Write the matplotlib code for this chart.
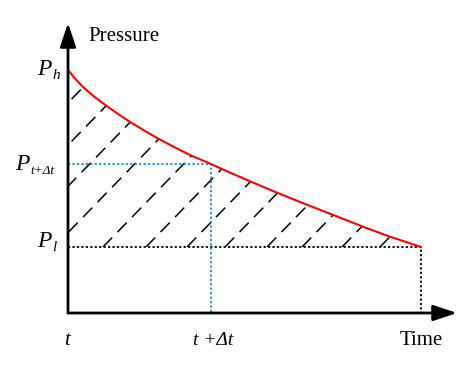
import numpy as np
import matplotlib
matplotlib.use('Agg')
import matplotlib.pyplot as plt
from matplotlib.patches import Polygon

plt.rcParams['lines.scale_dashes'] = False

# key values of the sketch (time / pressure in drawing units)
t_start = 0
t_dt = 143
t_end = 353
p_high = 243
p_dt = 149
p_low = 66

# pressure decay curve
curve_t = [0, 7, 14, 26, 38, 50, 63, 77, 91, 106, 122, 143, 154, 179, 205,
           232, 264, 292, 320, 353]
curve_p = [243, 234.5, 227, 216.5, 207.5, 199, 190.5, 182, 174, 166, 158,
           149, 144, 133, 122, 111, 98.5, 87.5, 77, 66]

# where each hatch line meets the P_l level
hatch_t0 = [-140, -99, -59, -14, 35, 78, 119, 157, 199, 234, 274, 312]
hatch_slope = 1.03

fig = plt.figure(figsize=(4.7, 3.65), dpi=100)
ax = fig.add_axes([0, 0, 1, 1])
ax.set_xlim(-68, 402)
ax.set_ylim(-52, 313)
ax.axis('off')

# hatched area under the curve, above P_l
region = Polygon(list(zip(curve_t, curve_p)) + [(t_start, p_low)],
                 closed=True, facecolor='none', edgecolor='none')
ax.add_patch(region)
for t0 in hatch_t0:
    ln, = ax.plot([t0, t0 + 320], [p_low, p_low + hatch_slope * 320],
                  color='k', lw=1.1, dashes=(9.5, 5.5))
    ln.set_clip_path(region)

# dotted guide lines
ax.plot([t_start, t_end, t_end], [p_low, p_low, 0], color='k', lw=1.3,
        dashes=(1.6, 1.6))
ax.plot([t_start, t_dt, t_dt], [p_dt, p_dt, 0], color='#1a8be0', lw=1.3,
        dashes=(1.6, 1.6))

# pressure curve
ax.plot(curve_t, curve_p, color='red', lw=1.5, solid_capstyle='round')

# axes with arrow heads
arrow = dict(arrowstyle='-|>,head_length=0.6,head_width=0.2', lw=2,
             color='k', shrinkA=0, shrinkB=0, mutation_scale=24)
ax.annotate('', xy=(0, 290), xytext=(0, 0), arrowprops=arrow)
ax.annotate('', xy=(389, 0), xytext=(0, 0), arrowprops=arrow)

# labels
serif = 'Liberation Serif'
ital = dict(family=serif, style='italic', va='baseline')
ax.text(20, 272, 'Pressure', fontsize=15, family=serif, va='baseline')
ax.text(332, -32, 'Time', fontsize=15, family=serif, va='baseline')
ax.text(-1, -32, 't', fontsize=15, ha='center', **ital)
ax.text(145, -32, 't +\u0394t', fontsize=14, ha='center', **ital)

for name, sub, p_val in [('P', 'h', p_high - 5), ('P', 't+\u0394t', p_dt - 6),
                         ('P', 'l', p_low)]:
    x0 = -53 if len(sub) > 1 else -31
    ax.text(x0, p_val, name, fontsize=17, **ital)
    ax.text(x0 + 15, p_val - 4, sub, fontsize=9.5 if len(sub) > 1 else 11,
            **ital)

fig.savefig('out.png', dpi=100)
